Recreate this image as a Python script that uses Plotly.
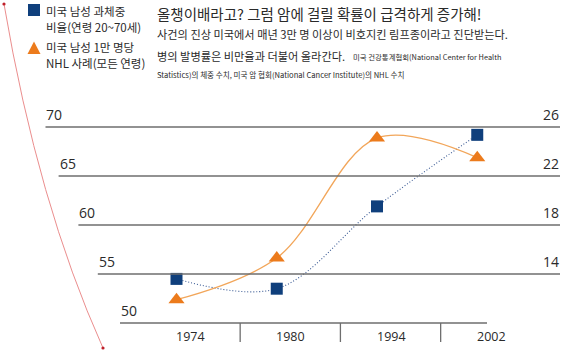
import plotly.graph_objects as go

# ---- data ----
years = ["1974", "1980", "1994", "2002"]
overweight_pct = [54.5, 53.5, 61.9, 69.2]      # left axis (%)
nhl_per_10k = [11.9, 15.3, 25.1, 23.5]         # right axis
left_ticks = [70, 65, 60, 55, 50]
right_ticks = [26, 22, 18, 14]

legend_lines = [["미국 남성 과체중", "비율(연령 20~70세)"],
                ["미국 남성 1만 명당", "NHL 사례(모든 연령)"]]
title1 = "올챙이배라고? 그럼 암에 걸릴 확률이 급격하게 증가해!"
title2 = "사건의 진상 미국에서 매년 3만 명 이상이 비호지킨 림프종이라고 진단받는다."
title3a = "병의 발병률은 비만율과 더불어 올라간다."
title3b = "미국 건강통계협회(National Center for Health"
title4 = "Statistics)의 체중 수치, 미국 암 협회(National Cancer Institute)의 NHL 수치"

W, H = 585, 350
BLUE = "#0f3f7c"
BLUE_LINE = "#3a5a94"
ORANGE = "#ec7b1c"
ORANGE_LINE = "#f2a65a"
GRID = "#6e6e6e"
TXT = "#2a2a2a"

# axis mapping (pixel geometry)
x0_px, dx_px = 176.5, 100.25
y50_px, py_per_unit = 323.0, 9.8
xr = [(0 - x0_px) / dx_px, (W - x0_px) / dx_px]
yr = [50 - (H - y50_px) / py_per_unit, 50 + y50_px / py_per_unit]
# right axis: 14 <-> 55, 26 <-> 70  => slope 0.8
k = (right_ticks[0] - right_ticks[-1]) / (left_ticks[0] - left_ticks[-2])
y2r = [right_ticks[-1] + k * (v - left_ticks[-2]) for v in yr]

xi = list(range(len(years)))

fig = go.Figure()
fig.add_trace(go.Scatter(
    x=xi, y=nhl_per_10k, yaxis="y2", mode="lines",
    line=dict(color=ORANGE_LINE, width=1.3, shape="spline", smoothing=1.0),
    hoverinfo="skip", showlegend=False))
fig.add_trace(go.Scatter(
    x=xi, y=overweight_pct, mode="lines",
    line=dict(color=BLUE_LINE, width=1.1, dash="1px,2px", shape="spline", smoothing=1.0),
    hoverinfo="skip", showlegend=False))
fig.add_trace(go.Scatter(
    x=xi, y=nhl_per_10k, yaxis="y2", mode="markers",
    marker=dict(symbol="triangle-up", size=14, color=ORANGE),
    showlegend=False))
fig.add_trace(go.Scatter(
    x=xi, y=overweight_pct, mode="markers",
    marker=dict(symbol="square", size=12, color=BLUE),
    showlegend=False))


def px(x):
    return x / W


def py(y):
    return 1 - y / H


shapes = []
annotations = []

# staggered horizontal grid lines with labels
grid_starts = [45.5, 58.6, 78.4, 97.8, 120.0]
for i, v in enumerate(left_ticks):
    x_end = 560 if v != left_ticks[-1] else 487
    shapes.append(dict(type="line", xref="paper", yref="y",
                       x0=px(grid_starts[i]), x1=px(x_end), y0=v, y1=v,
                       line=dict(color=GRID, width=1.5)))
    annotations.append(dict(xref="paper", yref="y", x=px(grid_starts[i] - 1), y=v,
                            text=str(v), showarrow=False, xanchor="left",
                            yanchor="bottom", yshift=1,
                            font=dict(family="Open Sans", size=14, color=TXT)))
for i, v in enumerate(right_ticks):
    annotations.append(dict(xref="paper", yref="y2", x=px(561), y=v,
                            text=str(v), showarrow=False, xanchor="right",
                            yanchor="bottom", yshift=1,
                            font=dict(family="Open Sans", size=14, color=TXT)))

# year labels and separators
for i, yl in enumerate(years):
    annotations.append(dict(xref="x", yref="paper", x=i, y=py(336),
                            text=yl, showarrow=False, xshift=14,
                            xanchor="center", yanchor="middle",
                            font=dict(family="Open Sans", size=12.5, color=TXT)))
for i in range(len(years) - 1):
    shapes.append(dict(type="line", xref="x", yref="paper",
                       x0=i + 0.635, x1=i + 0.635, y0=py(323), y1=py(342),
                       line=dict(color=GRID, width=1.3)))

# decorative red curve on the left
p0, p1, p2 = (4, 4), (37.8, 203), (103, 348)
path = "M {} {} Q {} {} {} {}".format(px(p0[0]), py(p0[1]), px(p1[0]), py(p1[1]),
                                        px(p2[0]), py(p2[1]))
shapes.append(dict(type="path", xref="paper", yref="paper", path=path,
                   line=dict(color="#e88080", width=0.9)))
for (a, b) in (p0, p2):
    shapes.append(dict(type="circle", xref="paper", yref="paper",
                       x0=px(a - 1.6), x1=px(a + 1.6), y0=py(b - 1.6), y1=py(b + 1.6),
                       fillcolor="#c0202a", line=dict(width=0)))

# legend
shapes.append(dict(type="rect", xref="paper", yref="paper",
                   x0=px(28), x1=px(40), y0=py(4), y1=py(16),
                   fillcolor=BLUE, line=dict(width=0)))
shapes.append(dict(type="path", xref="paper", yref="paper",
                   path="M {} {} L {} {} L {} {} Z".format(px(27.5), py(54), px(40.5), py(54),
                                                           px(34), py(41.5)),
                   fillcolor=ORANGE, line=dict(width=0)))
leg_y = [(11, 27), (47, 63)]
for (l1, l2), (ya, yb) in zip(legend_lines, leg_y):
    for t, yy in ((l1, ya), (l2, yb)):
        annotations.append(dict(xref="paper", yref="paper", x=px(44), y=py(yy),
                                text=t, showarrow=False, xanchor="left", yanchor="middle",
                                font=dict(family="Noto Sans CJK KR", size=11.5, color=TXT)))

# header texts
hdr = [
    (title1, 13, 14.5, 155),
    (title2, 34, 11.2, 155),
    (title3a, 55.5, 11.2, 155),
    (title4, 74, 7.6, 155),
]
for t, yy, fs, xx in hdr:
    annotations.append(dict(xref="paper", yref="paper", x=px(xx), y=py(yy),
                            text=t, showarrow=False, xanchor="left", yanchor="middle",
                            font=dict(family="Noto Sans CJK KR", size=fs, color=TXT)))
annotations.append(dict(xref="paper", yref="paper", x=px(351), y=py(56),
                        text=title3b, showarrow=False, xanchor="left", yanchor="middle",
                        font=dict(family="Noto Sans CJK KR", size=7.4, color=TXT)))

fig.update_layout(
    width=W, height=H,
    margin=dict(l=0, r=0, t=0, b=0),
    paper_bgcolor="white", plot_bgcolor="white",
    xaxis=dict(range=xr, visible=False, fixedrange=True),
    yaxis=dict(range=yr, visible=False, fixedrange=True),
    yaxis2=dict(range=y2r, overlaying="y", side="right", visible=False, fixedrange=True),
    shapes=shapes, annotations=annotations,
    showlegend=False,
)

fig.write_html("out.html", config={"displayModeBar": False})
